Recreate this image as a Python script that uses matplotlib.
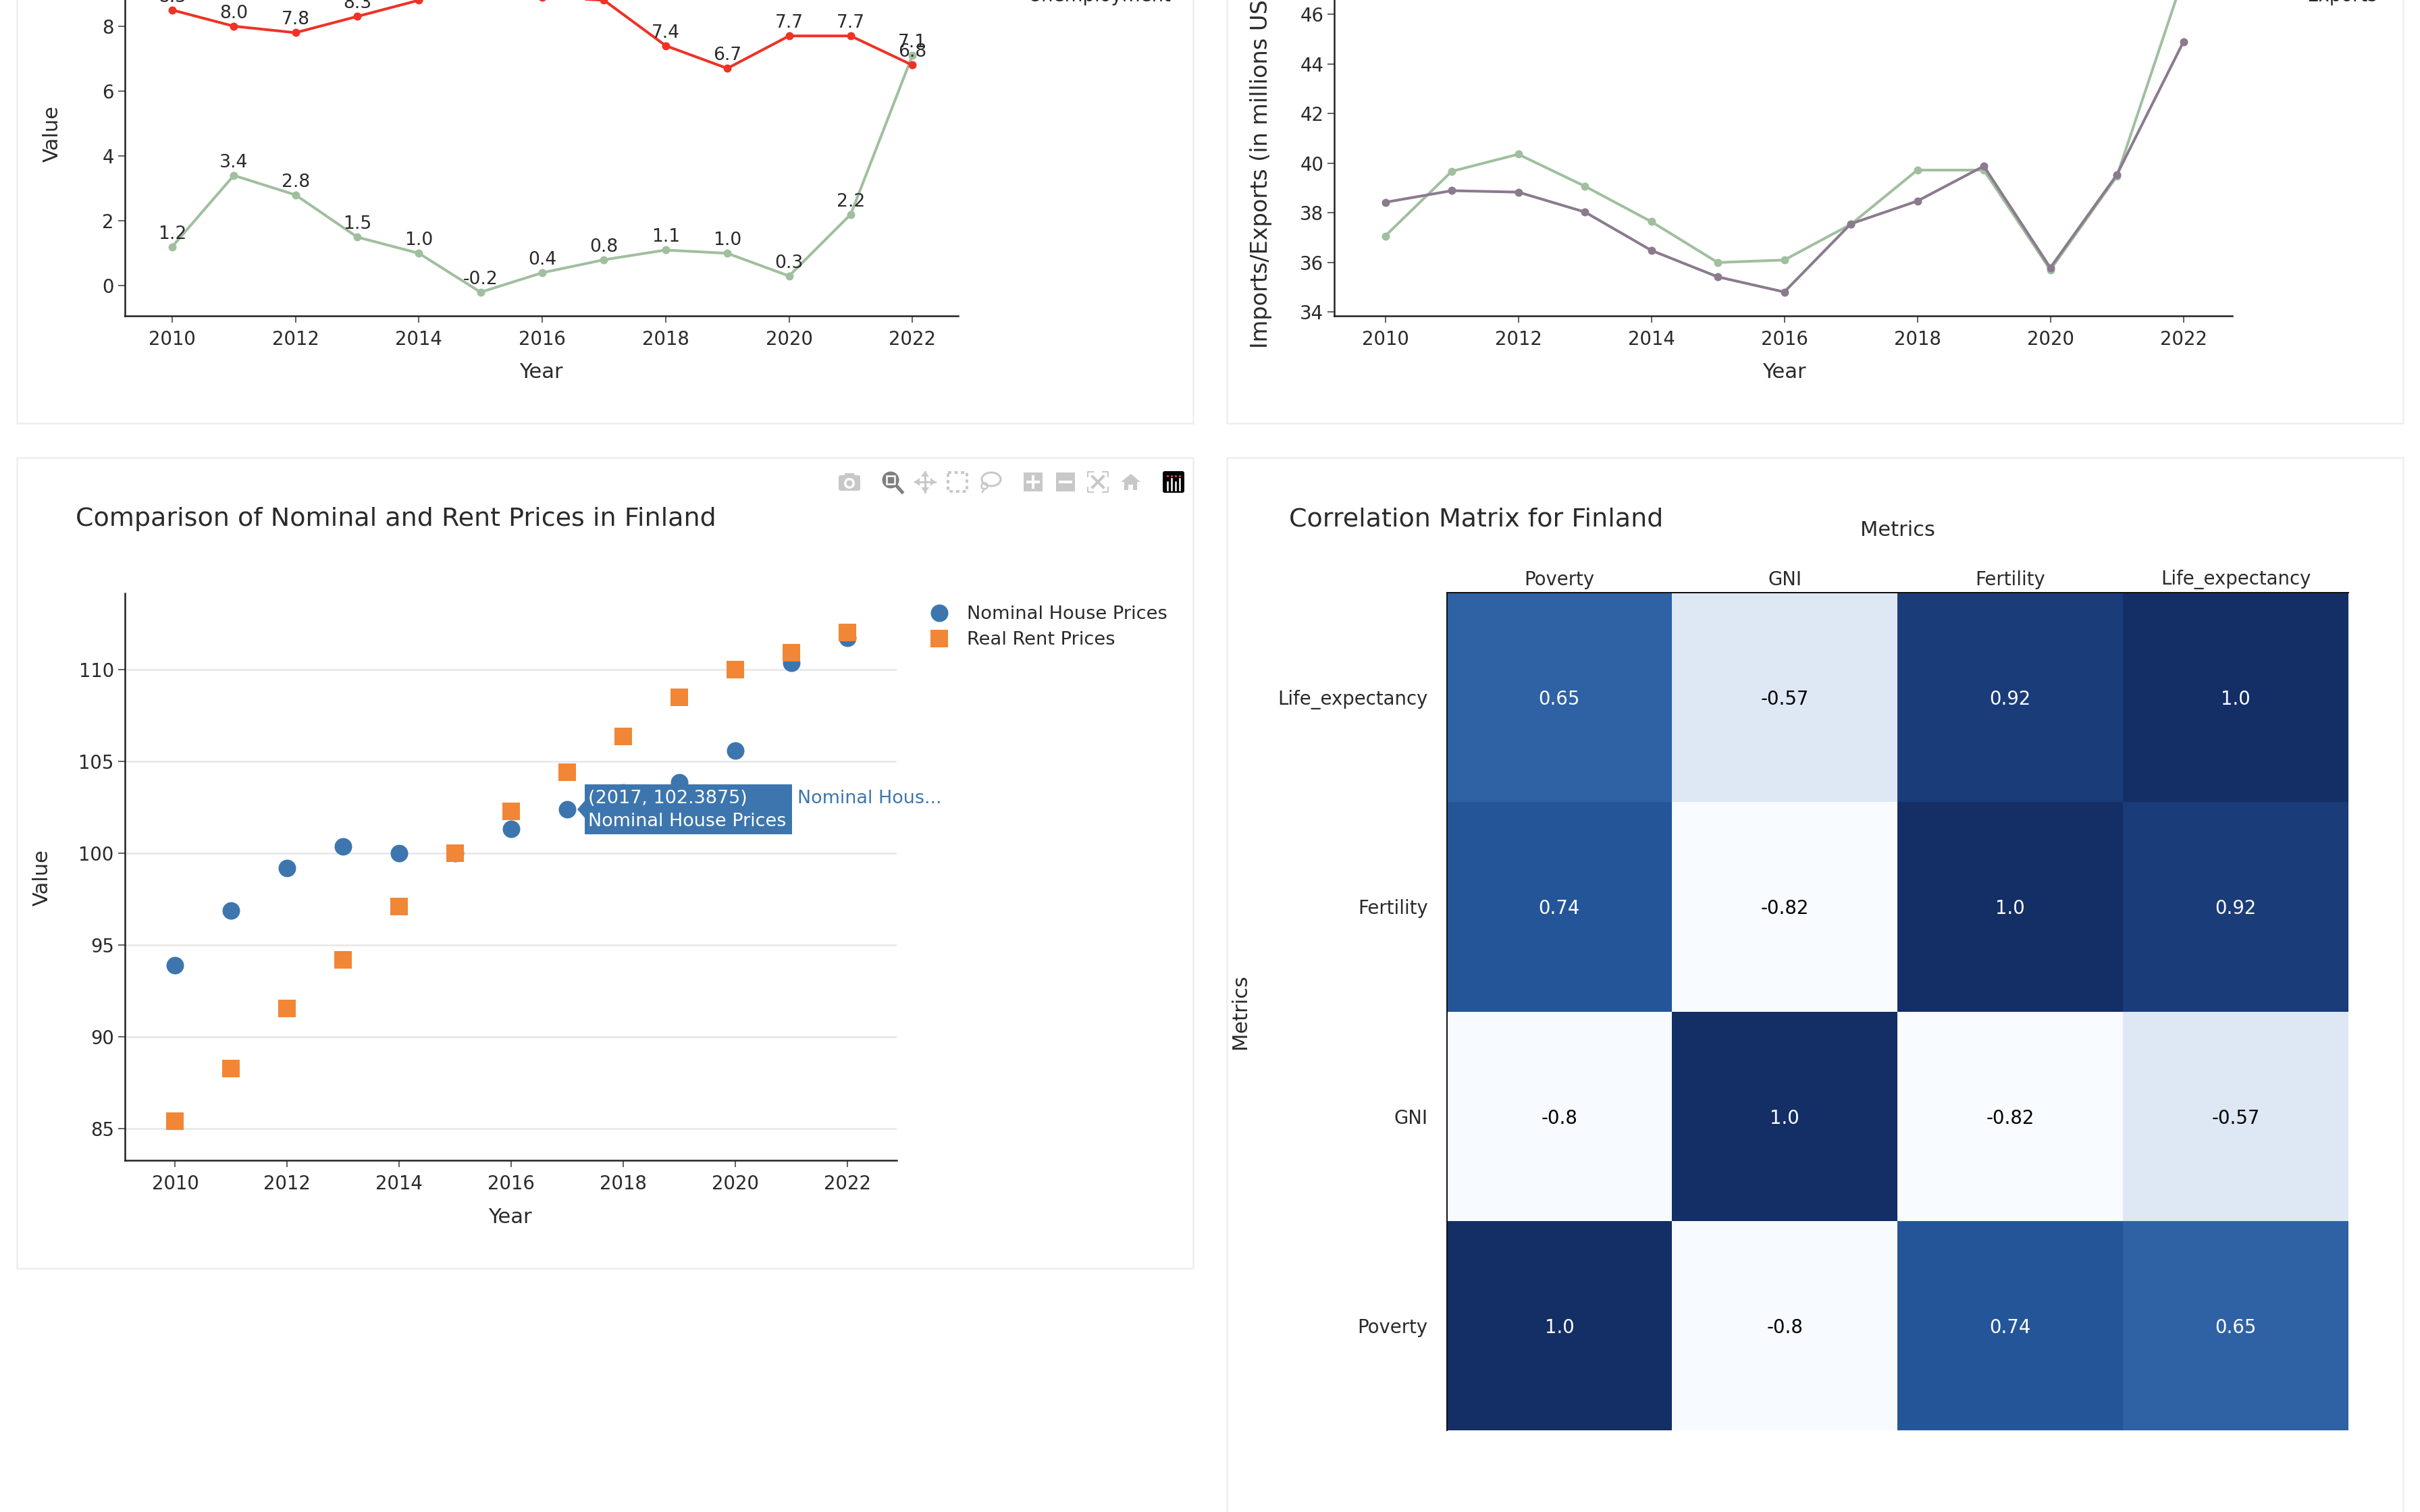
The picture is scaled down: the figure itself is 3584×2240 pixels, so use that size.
import numpy as np
import matplotlib
matplotlib.use("Agg")
import matplotlib.pyplot as plt
from matplotlib.colors import LinearSegmentedColormap
from matplotlib.patches import Rectangle, FancyBboxPatch, Polygon, Circle, Ellipse

# ---------- data ----------
years = list(range(2010, 2023))
even_years = list(range(2010, 2023, 2))
unemployment = [8.5, 8.0, 7.8, 8.3, 8.8, 9.4, 8.9, 8.8, 7.4, 6.7, 7.7, 7.7, 6.8]
inflation = [1.2, 3.4, 2.8, 1.5, 1.0, -0.2, 0.4, 0.8, 1.1, 1.0, 0.3, 2.2, 7.1]
imports = [37.06, 39.67, 40.36, 39.07, 37.64, 35.99, 36.09, 37.53, 39.72, 39.72, 35.69, 39.47, 47.5]
exports = [38.42, 38.89, 38.83, 38.03, 36.48, 35.41, 34.80, 37.55, 38.47, 39.88, 35.78, 39.53, 44.89]
nominal = [93.88, 96.85, 99.19, 100.34, 99.97, 100.0, 101.3, 102.3875, 103.3, 103.86, 105.59, 110.37, 111.73]
rent = [85.4, 88.26, 91.52, 94.17, 97.08, 100.0, 102.27, 104.38, 106.34, 108.47, 110.0, 110.89, 111.99]
metrics = ["Poverty", "GNI", "Fertility", "Life_expectancy"]
corr = [[1.0, -0.8, 0.74, 0.65],
        [-0.8, 1.0, -0.82, -0.57],
        [0.74, -0.82, 1.0, 0.92],
        [0.65, -0.57, 0.92, 1.0]]
left_ticks = [0, 2, 4, 6, 8]
right_ticks = [34, 36, 38, 40, 42, 44, 46]
price_ticks = [85, 90, 95, 100, 105, 110]

# ---------- style ----------
W, H = 3584, 2240
DPI = 100
def pt(px):
    return px * 72 / DPI

TXT = "#2a2a2a"
GREEN = "#a0bf9f"
RED = "#ee3224"
PURPLE = "#8b7a8e"
BLUE = "#3d76ae"
ORANGE = "#f18636"
BORDER = "#eeeeee"
FS = pt(27.5)
FS_AX = pt(30.5)
FS_TITLE = pt(38)

plt.rcParams["font.family"] = "DejaVu Sans"
fig = plt.figure(figsize=(W / DPI, H / DPI), dpi=DPI, facecolor="white")

def make_axes(l, t, r, b):
    return fig.add_axes([l / W, 1 - b / H, (r - l) / W, (b - t) / H])

def style_axes(ax, xticks, yticks):
    for s in ("top", "right"):
        ax.spines[s].set_visible(False)
    for s in ("left", "bottom"):
        ax.spines[s].set_linewidth(pt(2.5))
        ax.spines[s].set_color("#222222")
    ax.set_xticks(xticks)
    ax.set_yticks(yticks)
    ax.tick_params(length=pt(10), width=pt(1.5), color="#333333",
                   labelsize=FS, labelcolor=TXT, pad=pt(6))
    ax.xaxis.set_tick_params(pad=pt(11))

def line(ax, x, y, color):
    ax.plot(x, y, color=color, lw=pt(4), marker="o", ms=pt(12), mew=0,
            clip_on=True, solid_joinstyle="round")

# ---------- top left ----------
ax1 = make_axes(184.8, -60, 1418.9, 467.8)
style_axes(ax1, even_years, left_ticks)
ax1.set_xlim(2009.233, 2022.74)
ax1.set_ylim(-0.926, 10.056)
line(ax1, years, inflation, GREEN)
line(ax1, years, unemployment, RED)
for series in (inflation, unemployment):
    for x, y in zip(years, series):
        ax1.annotate(f"{y:.1f}", (x, y), xytext=(0, pt(19)),
                     textcoords="offset points", ha="center", va="center",
                     fontsize=pt(26.5), color=TXT)

# ---------- top right ----------
ax2 = make_axes(1976.4, -60, 3306.4, 467.8)
style_axes(ax2, even_years, right_ticks)
ax2.set_xlim(2009.237, 2022.74)
ax2.set_ylim(33.84, 48.22)
line(ax2, years, imports, GREEN)
line(ax2, years, exports, PURPLE)

# ---------- bottom left ----------
ax3 = make_axes(184.8, 878.7, 1328, 1718.8)
style_axes(ax3, even_years, price_ticks)
ax3.set_xlim(2009.1, 2022.88)
ax3.set_ylim(83.27, 114.15)
ax3.grid(axis="y", color="#e6e6e6", lw=pt(2.5))
ax3.set_axisbelow(True)
ax3.plot(years, nominal, ls="none", marker="o", ms=pt(26), mew=0, color=BLUE)
ax3.plot(years, rent, ls="none", marker="s", ms=pt(26), mew=0, color=ORANGE)

# ---------- heat map ----------
ax4 = make_axes(2142.5, 878, 3478, 2119)
nodes = [(-0.82, "#f8fbff"), (-0.8, "#f6f9fe"), (-0.57, "#dee8f4"), (0.65, "#2e62a4"),
         (0.74, "#24559a"), (0.92, "#1a3c78"), (1.0, "#142e66")]
lo, hi = nodes[0][0], nodes[-1][0]
cmap = LinearSegmentedColormap.from_list(
    "corr", [((v - lo) / (hi - lo), c) for v, c in nodes])
ax4.pcolormesh(np.arange(5) - 0.5, np.arange(5) - 0.5, np.array(corr),
               cmap=cmap, vmin=lo, vmax=hi)
ax4.set_xticks(range(4), metrics)
ax4.set_yticks(range(4), metrics)
ax4.xaxis.tick_top()
ax4.tick_params(length=0, labelsize=FS, labelcolor=TXT, pad=pt(5))
ax4.yaxis.set_tick_params(pad=pt(28))
for s in ("right", "bottom"):
    ax4.spines[s].set_visible(False)
for s in ("top", "left"):
    ax4.spines[s].set_linewidth(pt(2))
    ax4.spines[s].set_color("#111111")
for i, row in enumerate(corr):
    for j, v in enumerate(row):
        ax4.text(j, i, str(v), ha="center", va="center_baseline", fontsize=FS,
                 color="white" if v > 0 else "black")

# ---------- overlay in pixel coordinates ----------
ov = fig.add_axes([0, 0, 1, 1], zorder=10)
ov.set_xlim(0, W)
ov.set_ylim(H, 0)
ov.axis("off")
ov.patch.set_alpha(0)

def box(l, t, r, b):
    ov.add_patch(Rectangle((l, t), r - l, b - t, fc="none", ec=BORDER, lw=pt(2.5)))

box(25, -20, 1767, 627)
box(1817, -20, 3559, 627)
box(25, 678, 1767, 1879)
box(1817, 678, 3559, H + 40)

def label(x, y, s, size=FS_AX, **kw):
    kw.setdefault("ha", "center")
    kw.setdefault("va", "center")
    kw.setdefault("color", TXT)
    ov.text(x, y, s, fontsize=size, **kw)

label(801, 552, "Year")
label(2642, 552, "Year")
label(755, 1803, "Year")
label(77, 198, "Value", rotation=90)
label(62, 1300, "Value", rotation=90)
label(1868, 516, "Imports/Exports (in millions USD)", size=pt(33.5), rotation=90, va="bottom")
label(112.5, 769, "Comparison of Nominal and Rent Prices in Finland", size=FS_TITLE, ha="left")
label(1909, 769, "Correlation Matrix for Finland", size=FS_TITLE, ha="left")
label(2810, 785, "Metrics")
label(1836, 1499, "Metrics", rotation=90)
label(1523, 2, "Unemployment", size=FS, ha="left", va="baseline")
label(3416, 2, "Exports", size=FS, ha="left", va="baseline")

# legend of the price chart
ov.plot([1390.6], [907.7], "o", ms=pt(26), mew=0, color=BLUE)
ov.plot([1390.6], [946], "s", ms=pt(26), mew=0, color=ORANGE)
label(1431.5, 910, "Nominal House Prices", size=pt(27.2), ha="left")
label(1431.5, 948, "Real Rent Prices", size=pt(27.2), ha="left")

# hover label
ov.add_patch(Rectangle((866, 1162), 307, 74, fc=BLUE, ec="none"))
ov.add_patch(Polygon([(855, 1199), (868, 1184), (868, 1214)], fc=BLUE, ec="none"))
label(871, 1183, "(2017, 102.3875)", size=pt(27), ha="left", color="white")
label(871, 1217, "Nominal House Prices", size=pt(27), ha="left", color="white")
label(1181, 1183, "Nominal Hous...", size=pt(27), ha="left", color=BLUE)

# tool bar
IC = "#c8c8c8"
ov.add_patch(FancyBboxPatch((1242, 704), 32, 23, boxstyle="round,pad=0,rounding_size=3", fc=IC, ec="none"))
ov.add_patch(Rectangle((1251, 701), 14, 4, fc=IC, ec="none"))
ov.add_patch(Ellipse((1258, 716), 16, 16, fc="white", ec="none"))
ov.add_patch(Ellipse((1258, 716), 9, 9, fc=IC, ec="none"))
ov.add_patch(Circle((1319, 711), 11, fc="#7f7f7f", ec="#7f7f7f", lw=pt(3)))
ov.add_patch(Rectangle((1313, 705), 12, 12, fc="#7f7f7f", ec="white", lw=pt(2.5)))
ov.plot([1328, 1336], [720, 729], color="#7f7f7f", lw=pt(5))
ov.plot([1355, 1385], [714, 714], color=IC, lw=pt(3))
ov.plot([1370, 1370], [699, 729], color=IC, lw=pt(3))
for p in ([(1354, 714), (1362, 708), (1362, 720)], [(1386, 714), (1378, 708), (1378, 720)],
          [(1370, 698), (1364, 706), (1376, 706)], [(1370, 730), (1364, 722), (1376, 722)]):
    ov.add_patch(Polygon(p, fc=IC, ec="none"))
ov.add_patch(Rectangle((1404, 700), 28, 28, fc="none", ec=IC, lw=pt(4), ls=(0, (1.2, 1.2))))
ov.add_patch(Ellipse((1468, 710), 28, 20, fc="none", ec=IC, lw=pt(3)))
ov.add_patch(Ellipse((1458, 720), 9, 9, fc="none", ec=IC, lw=pt(2.5)))
ov.plot([1458, 1455], [724, 729], color=IC, lw=pt(2.5))
for x0, plus in ((1516, True), (1564, False)):
    ov.add_patch(Rectangle((x0, 700), 28, 28, fc=IC, ec="none"))
    ov.plot([x0 + 6, x0 + 22], [714, 714], color="white", lw=pt(4))
    if plus:
        ov.plot([x0 + 14, x0 + 14], [706, 722], color="white", lw=pt(4))
for sx, sy in ((1611, 699), (1641, 699), (1611, 729), (1641, 729)):
    dx = 8 if sx == 1611 else -8
    dy = 7 if sy == 699 else -7
    ov.plot([sx + dx, sx, sx], [sy, sy, sy + dy], color=IC, lw=pt(2))
ov.plot([1618, 1634], [706, 722], color=IC, lw=pt(4))
ov.plot([1634, 1618], [706, 722], color=IC, lw=pt(4))
ov.add_patch(Polygon([(1660, 714), (1675, 702), (1689, 714), (1684, 714), (1684, 726), (1678, 726),
                      (1678, 718), (1671, 718), (1671, 726), (1665, 726), (1665, 714)], fc=IC, ec="none"))
ov.add_patch(FancyBboxPatch((1722, 698), 32, 32, boxstyle="round,pad=0,rounding_size=3", fc="black", ec="none"))
for x0, top in ((1729, 714), (1735, 709), (1741, 714), (1747, 709)):
    ov.plot([x0, x0], [top, 726], color="white", lw=pt(2.5))
ov.plot([1729, 1735, 1741, 1747], [705, 705, 705, 705], ls="none", marker="o", ms=pt(3), mew=0, color="#e8476a")

fig.savefig("out.png", dpi=DPI, facecolor="white")
